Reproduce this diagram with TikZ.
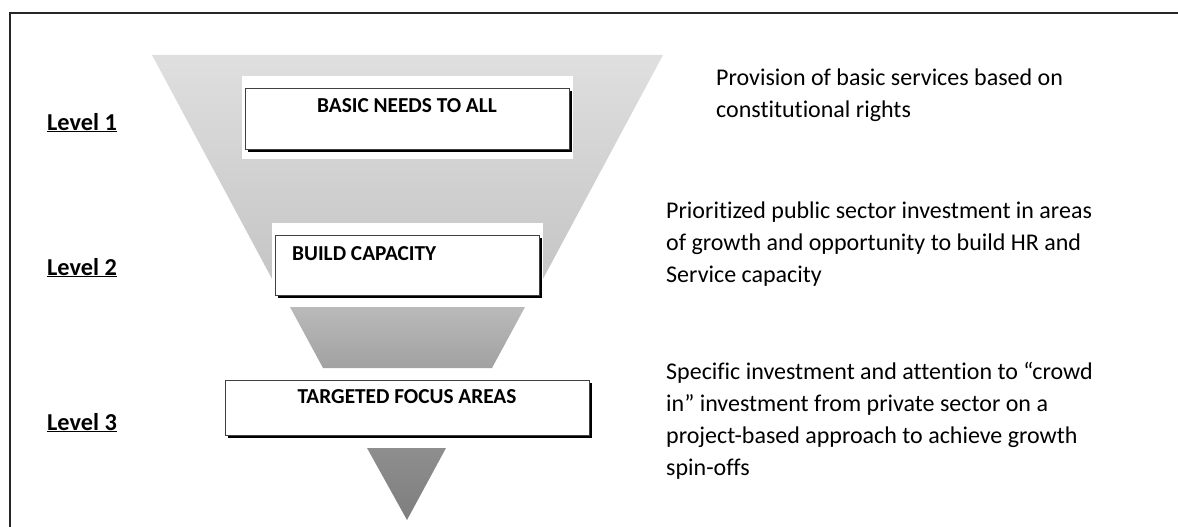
\documentclass[tikz,border=0pt]{standalone}
\usepackage{fontspec}
\setmainfont{Carlito}[Ligatures={NoCommon}]
\usetikzlibrary{shadows}
\definecolor{fonetop}{RGB}{223,223,223}
\definecolor{fonebot}{RGB}{196,196,196}
\definecolor{ftwotop}{RGB}{186,186,186}
\definecolor{ftwobot}{RGB}{161,161,161}
\definecolor{fthrtop}{RGB}{142,142,142}
\definecolor{fthrbot}{RGB}{126,126,126}
\begin{document}
\begin{tikzpicture}[x=1pt,y=-1pt,
  frameline/.style={draw=black!85, line width=1.6pt},
  whitebg/.style={fill=white, draw=none, inner sep=0pt, anchor=north west},
  boxstyle/.style={draw=black!75, line width=0.9pt, fill=white, inner sep=0pt, anchor=north west,
    drop shadow={fill=black, opacity=1, shadow xshift=2.2pt, shadow yshift=-2.2pt}},
  boxtext/.style={font=\fontsize{21.3}{26}\selectfont\bfseries, inner sep=0pt},
  leveltext/.style={font=\fontsize{24.3}{28}\selectfont\bfseries, inner sep=0pt, anchor=base west},
  desc/.style={font=\fontsize{24}{31.7}\selectfont, inner sep=0pt, anchor=base west, align=left}]
\useasboundingbox (0,0) rectangle (1178,527);
% frame
\coordinate (fr1) at (1178,13);
\coordinate (fr2) at (10,13);
\coordinate (fr3) at (10,527);
\draw[frameline] (fr1) -- (fr2) -- (fr3);
% funnel parts
\shade[top color=fonetop, bottom color=fonebot] (152,55) -- (663,55) -- (537,290) -- (278,290) -- cycle;
\shade[top color=ftwotop, bottom color=ftwobot] (290,307) -- (525,307) -- (492,368) -- (323,368) -- cycle;
\shade[top color=fthrtop, bottom color=fthrbot] (367,448) -- (446,448) -- (407,520) -- cycle;
% box 1
\node[whitebg, minimum width=331pt, minimum height=83pt] (bg1) at (242,76) {};
\node[boxstyle, minimum width=324pt, minimum height=61pt] (b1) at (245,88) {};
\node[boxtext, anchor=base] (t1) at (407,112) {BASIC NEEDS TO ALL};
% box 2
\node[whitebg, minimum width=271pt, minimum height=74pt] (bg2) at (272,223) {};
\node[boxstyle, minimum width=264pt, minimum height=60pt] (b2) at (275,235) {};
\node[boxtext, anchor=base west] (t2) at (292,260) {BUILD CAPACITY};
% box 3
\node[boxstyle, minimum width=364pt, minimum height=55pt] (b3) at (225,380) {};
\node[boxtext, anchor=base] (t3) at (407,403) {TARGETED FOCUS AREAS};
% levels
\node[leveltext] (l1) at (47,130) {\underline{Level 1}};
\node[leveltext] (l2) at (47,275) {\underline{Level 2}};
\node[leveltext] (l3) at (47,430) {\underline{Level 3}};
% descriptions (anchored at the baseline of their last line)
\node[desc] (d1) at (716,117) {Provision of basic services based on\\constitutional rights};
\node[desc] (d2) at (666,282) {Prioritized public sector investment in areas\\of growth and opportunity to build HR and\\Service capacity};
\node[desc] (d3) at (666,475) {Specific investment and attention to “crowd\\in” investment from private sector on a\\project-based approach to achieve growth\\spin-offs};
\end{tikzpicture}
\end{document}
